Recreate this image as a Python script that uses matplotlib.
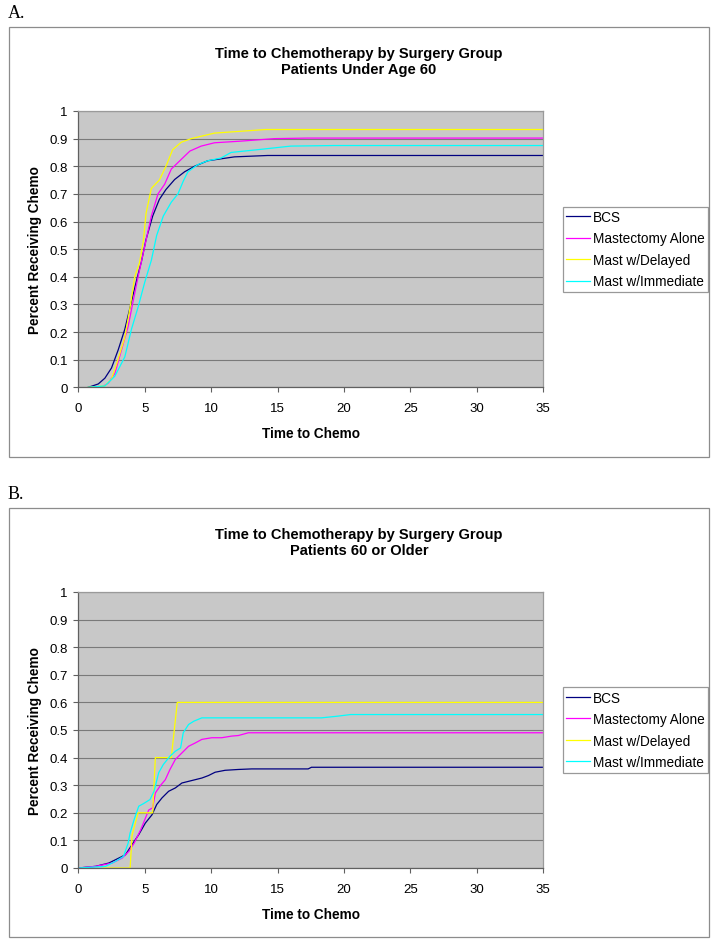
import numpy as np
import matplotlib
matplotlib.use('Agg')
import matplotlib.pyplot as plt
from matplotlib.patches import Rectangle

plt.rcParams['font.family'] = ['Liberation Sans', 'DejaVu Sans']

# Series names and colours (Excel style)
series_names = ['BCS', 'Mastectomy Alone', 'Mast w/Delayed', 'Mast w/Immediate']
series_colors = ['#000080', '#ff00ff', '#ffff00', '#00ffff']

# Panel A - patients under age 60
bcs_a_x = [0.75, 1.5, 2.0, 2.5, 3.0, 3.5, 3.9, 4.4, 4.75, 5.1, 5.6, 6.1, 6.6, 7.25, 8.0, 8.75, 9.75, 10.75, 11.75, 14.25, 35]
bcs_a_y = [0.0, 0.012, 0.033, 0.07, 0.135, 0.21, 0.29, 0.39, 0.455, 0.535, 0.62, 0.68, 0.716, 0.752, 0.78, 0.80, 0.82, 0.827, 0.834, 0.839, 0.839]
mast_a_x = [1.75, 2.25, 2.75, 3.25, 3.75, 4.1, 4.5, 5.0, 5.5, 6.0, 6.5, 7.0, 7.75, 8.4, 9.25, 10.25, 12.25, 14.75, 17.25, 35]
mast_a_y = [0.0, 0.015, 0.05, 0.135, 0.22, 0.305, 0.40, 0.51, 0.62, 0.70, 0.735, 0.79, 0.825, 0.855, 0.873, 0.885, 0.891, 0.90, 0.902, 0.902]
delay_a_x = [0.75, 2.0, 2.5, 2.9, 3.5, 3.9, 4.25, 4.6, 4.9, 5.1, 5.5, 6.1, 6.6, 7.1, 7.75, 8.5, 10.25, 14.1, 35]
delay_a_y = [0.0, 0.005, 0.03, 0.087, 0.18, 0.29, 0.40, 0.45, 0.53, 0.63, 0.72, 0.75, 0.80, 0.86, 0.887, 0.90, 0.92, 0.933, 0.933]
imm_a_x = [0.75, 2.0, 2.75, 3.5, 4.0, 4.5, 5.0, 5.5, 5.9, 6.4, 7.0, 7.5, 7.9, 8.25, 9.0, 9.75, 10.75, 11.5, 13.5, 16.0, 19.25, 35]
imm_a_y = [0.0, 0.005, 0.04, 0.11, 0.21, 0.29, 0.38, 0.46, 0.55, 0.62, 0.67, 0.70, 0.746, 0.78, 0.806, 0.82, 0.83, 0.85, 0.86, 0.873, 0.875, 0.875]

# Panel B - patients 60 or older
bcs_b_x = [0, 1.3, 2.3, 3.05, 3.55, 4.05, 4.55, 5.05, 5.55, 5.9, 6.3, 6.8, 7.3, 7.8, 8.3, 8.8, 9.3, 9.8, 10.3, 11.05, 12.05, 13.05, 17.3, 17.55, 35]
bcs_b_y = [0, 0.006, 0.018, 0.036, 0.048, 0.085, 0.121, 0.163, 0.193, 0.23, 0.254, 0.278, 0.29, 0.308, 0.314, 0.32, 0.326, 0.335, 0.347, 0.354, 0.357, 0.359, 0.359, 0.365, 0.365]
mast_b_x = [0, 1.3, 2.55, 3.3, 3.8, 4.2, 4.7, 5.3, 5.6, 5.8, 6.2, 6.55, 6.9, 7.3, 7.8, 8.3, 8.8, 9.3, 10.05, 10.8, 11.55, 12.05, 12.8, 35]
mast_b_y = [0, 0.006, 0.018, 0.036, 0.06, 0.09, 0.139, 0.21, 0.218, 0.272, 0.30, 0.32, 0.357, 0.393, 0.417, 0.441, 0.453, 0.466, 0.472, 0.472, 0.478, 0.48, 0.49, 0.49]
delay_b_x = [1.9, 3.9, 4.05, 4.5, 5.6, 5.8, 7.0, 7.45, 35]
delay_b_y = [0, 0, 0.12, 0.2, 0.2, 0.4, 0.4, 0.6, 0.6]
imm_b_x = [0, 2.05, 2.8, 3.4, 3.75, 3.9, 4.2, 4.55, 4.9, 5.4, 5.7, 6.05, 6.4, 6.9, 7.3, 7.7, 7.9, 8.3, 8.7, 9.3, 9.8, 18.3, 19.5, 20.5, 35]
imm_b_y = [0, 0.006, 0.024, 0.042, 0.09, 0.127, 0.175, 0.224, 0.233, 0.248, 0.278, 0.345, 0.375, 0.405, 0.423, 0.435, 0.49, 0.52, 0.532, 0.544, 0.544, 0.544, 0.55, 0.556, 0.556]

x_ticks = [0, 5, 10, 15, 20, 25, 30, 35]
y_ticks = [0, 0.1, 0.2, 0.3, 0.4, 0.5, 0.6, 0.7, 0.8, 0.9, 1]
y_tick_labels = ['0', '0.1', '0.2', '0.3', '0.4', '0.5', '0.6', '0.7', '0.8', '0.9', '1']

W, H = 717, 945
fig = plt.figure(figsize=(W / 100, H / 100), dpi=100)


def px_box(left, top, right, bottom):
    # convert pixel box to figure fraction [l, b, w, h]
    return [left / W, 1 - bottom / H, (right - left) / W, (bottom - top) / H]


def draw_panel(letter, subtitle, box_top, box_bottom, plot_top, plot_bottom, xs, ys):
    # outer chart border
    l, b, w, h = px_box(9, box_top, 709, box_bottom)
    fig.patches.append(Rectangle((l, b), w, h, transform=fig.transFigure,
                                 fill=False, edgecolor='#8c8c8c', lw=0.9))
    fig.text(8 / W, 1 - (box_top - 14) / H, letter, family='Liberation Serif',
             fontsize=13, va='center', ha='left')
    fig.text(359 / W, 1 - (box_top + 34) / H,
             'Time to Chemotherapy by Surgery Group\n' + subtitle,
             ha='center', va='center', fontsize=10.5, fontweight='bold', linespacing=1.2)

    ax = fig.add_axes(px_box(78.3, plot_top, 543.3, plot_bottom))
    ax.set_facecolor('#c8c8c8')
    for x, y, c, name in zip(xs, ys, series_colors, series_names):
        ax.plot(x, y, color=c, lw=0.9, label=name)
    ax.set_xlim(0, 35)
    ax.set_ylim(0, 1)
    ax.set_xticks(x_ticks)
    ax.set_yticks(y_ticks)
    ax.set_yticklabels(y_tick_labels)
    ax.yaxis.grid(True, color='#7a7a7a', lw=0.8)
    ax.set_axisbelow(True)
    ax.tick_params(axis='both', direction='out', length=3.5, width=0.8, color='#606060',
                   labelsize=9.5, pad=4)
    ax.tick_params(axis='x', pad=7)
    for s in ['left', 'bottom']:
        ax.spines[s].set_color('#606060')
        ax.spines[s].set_linewidth(0.9)
    for s in ['top', 'right']:
        ax.spines[s].set_color('#9a9a9a')
        ax.spines[s].set_linewidth(0.9)
    ax.set_xlabel('Time to Chemo', fontsize=9.8, fontweight='bold', labelpad=9)
    ax.set_ylabel('Percent Receiving Chemo', fontsize=9.8, fontweight='bold', labelpad=5)

    center_y = 1 - ((plot_top + plot_bottom) / 2) / H
    leg = fig.legend(*ax.get_legend_handles_labels(), loc='center left',
                     bbox_to_anchor=(563 / W, center_y), fontsize=9.8, frameon=True,
                     fancybox=False, handlelength=1.7, handletextpad=0.25,
                     labelspacing=0.55, borderpad=0.25, borderaxespad=0)
    leg.get_frame().set_edgecolor('#808080')
    leg.get_frame().set_linewidth(0.9)
    return ax


draw_panel('A.', 'Patients Under Age 60', 28, 458, 112, 388.3,
           [bcs_a_x, mast_a_x, delay_a_x, imm_a_x],
           [bcs_a_y, mast_a_y, delay_a_y, imm_a_y])
draw_panel('B.', 'Patients 60 or Older', 509, 938, 593, 869,
           [bcs_b_x, mast_b_x, delay_b_x, imm_b_x],
           [bcs_b_y, mast_b_y, delay_b_y, imm_b_y])

fig.savefig('out.png', dpi=100)
